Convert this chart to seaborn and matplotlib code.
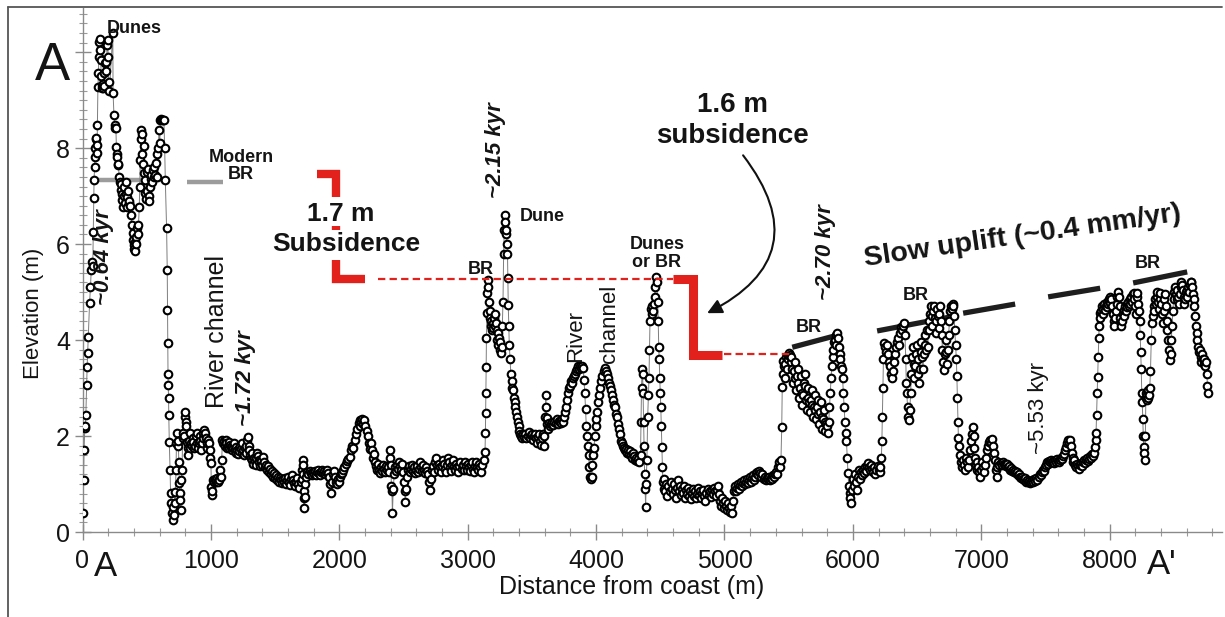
import matplotlib
matplotlib.use("Agg")
import matplotlib.pyplot as plt
import pandas as pd
import seaborn as sns
from matplotlib.ticker import MultipleLocator, FixedLocator
from matplotlib.lines import Line2D

# ---------------- profile data (distance from coast [m], elevation [m]) ----------------
coast_dunes = [(3,0.40),(8,1.08),(12,1.71),(18,2.17),(22,2.20),(26,2.44),(32,3.06),(36,3.44),(40,3.73),(45,4.07),
    (55,4.77),(62,5.10),(68,5.46),(74,5.63),(80,5.55),(84,6.25),(88,6.96),(90,7.33),(94,7.60),(98,7.81),(100,8.00),
    (103,8.20),(106,8.22),(110,8.07),(113,7.90),(116,8.48),(120,9.27),(124,9.56),(127,9.90),(130,10.22),(134,10.28),
    (138,10.05),(142,9.83),(146,9.50),(150,9.31),(153,9.25),(156,9.28),(159,9.33),(162,9.25),(165,9.30),(170,9.56),
    (175,9.77),(180,9.60),(186,9.80),(192,10.15),(196,10.25),(200,9.90),(204,9.37),(210,9.20),(236,10.40),(238,9.15),
    (245,8.69),(250,8.48),(255,8.41),(260,8.41),(264,8.02),(268,7.88),(272,7.81),(276,7.65),(280,7.67),(285,7.40),
    (290,7.30),(296,7.12),(300,7.25),(305,6.91),(310,7.05),(315,6.77),(320,7.00),(325,7.20),(330,6.85),(335,7.30),
    (340,7.05),(345,6.98),(350,6.77),(355,7.10),(360,6.85),(366,6.90),(372,6.80),(378,6.60),(384,6.40),(390,6.23),
    (395,6.08),(400,5.98),(404,5.90),(408,6.05),(412,5.85),(416,6.15),(420,6.00),(424,6.33),(430,6.20),(436,6.40),
    (442,6.77),(446,7.20),(450,7.75),(454,8.37),(458,8.20),(462,7.88),(466,8.30),(470,7.67),(476,8.05),(480,7.48),
    (486,7.33),(490,7.06),(496,6.93),(500,7.10),(505,7.50),(510,7.57),(515,7.00),(520,6.90),(525,7.20),(530,7.35),
    (536,7.45),(542,7.30),(548,7.55),(554,7.40),(560,7.60),(566,7.45),(572,7.70),(578,7.40),(584,7.88),(590,8.00),
    (596,8.37),(602,8.10),(606,8.58),(612,8.60),(618,8.58),(628,8.58),(634,8.58),(640,8.00),(645,7.33),(655,6.33),
    (660,5.46),(662,4.63),(664,3.94),(666,3.30),(668,3.06),(670,2.80),(672,2.44)]

river_channel_low = [(676,1.88),(682,1.29),(686,0.81),(690,0.60),(696,0.40),(702,0.25),(708,0.53),(712,0.35),
    (718,0.83),(722,0.60),(728,1.29),(732,1.85),(738,2.06),(742,1.80),(746,1.90),(750,1.45),(754,1.02),(758,0.81),
    (762,0.67),(766,0.45),(770,1.08),(775,1.30),(780,1.95),(786,2.06),(790,2.00),(796,2.40),(800,2.50),(804,2.30),
    (808,2.20),(812,1.87),(818,1.75),(822,1.60),(828,1.90),(834,1.75),(840,2.06),(846,1.85),(852,1.80),(858,1.95),
    (864,1.88),(870,1.75),(876,1.80),(882,2.00),(888,2.06),(894,1.85),(900,1.75),(906,1.85),(912,2.00),(918,1.90),
    (924,1.70),(930,1.85),(936,1.95),(942,2.06),(948,2.13),(954,2.06),(960,1.95),(966,1.75),(972,1.85),(978,1.92),
    (984,1.85),(990,1.70),(996,1.55)]

terrace_1000 = [(1000,1.44),(1004,0.94),(1008,0.78),(1012,0.85),(1018,1.08),(1024,1.05),(1030,1.10),(1036,1.05),
    (1042,1.08),(1048,1.12),(1054,1.05),(1060,1.10),(1066,1.08),(1072,1.29),(1078,1.15),(1084,1.50),(1090,1.92),
    (1096,1.85),(1102,1.90),(1108,1.80),(1114,1.92),(1120,1.85),(1126,1.75),(1132,1.80),(1138,1.88),(1144,1.75),
    (1150,1.82),(1156,1.78),(1162,1.70),(1168,1.80),(1174,1.75),(1180,1.85),(1186,1.72),(1192,1.65),(1198,1.78),
    (1204,1.70),(1210,1.62),(1216,1.75),(1222,1.68),(1228,1.80),(1234,1.72),(1240,1.65),(1246,1.85),(1252,1.70),
    (1258,1.60),(1264,1.75),(1270,1.65),(1276,1.80),(1282,1.92),(1288,1.98),(1294,1.80),(1300,1.70),(1306,1.60),
    (1312,1.55),(1318,1.65),(1324,1.50),(1330,1.42),(1336,1.55),(1342,1.48),(1348,1.40),(1354,1.55),(1360,1.65),
    (1366,1.58),(1372,1.50),(1378,1.45),(1384,1.38),(1390,1.48),(1396,1.40)]

plain_1400 = [(1402,1.56),(1410,1.45),(1418,1.35),(1426,1.40),(1434,1.30),(1442,1.38),(1450,1.25),(1458,1.32),
    (1466,1.20),(1474,1.28),(1482,1.15),(1490,1.22),(1498,1.12),(1506,1.18),(1514,1.08),(1522,1.15),(1530,1.05),
    (1538,1.12),(1546,1.08),(1554,1.02),(1562,1.10),(1570,1.05),(1578,1.12),(1586,1.00),(1594,1.08),(1602,1.15),
    (1610,1.05),(1618,0.98),(1626,1.10),(1634,1.18),(1642,1.08),(1650,1.02),(1658,0.95),(1666,1.05),(1674,1.12),
    (1682,1.00),(1690,0.92),(1698,1.05),(1706,1.10),(1712,1.30),(1716,1.50),(1718,1.40),(1720,1.20),(1722,0.85),
    (1724,0.70),(1726,0.50),(1730,0.72),(1736,1.00),(1744,1.15),(1752,1.25),(1760,1.20),(1768,1.28),(1776,1.22),
    (1784,1.18),(1792,1.25),(1800,1.20),(1808,1.28),(1816,1.18),(1824,1.25),(1832,1.30),(1840,1.22),(1848,1.18),
    (1856,1.25),(1864,1.30),(1872,1.22),(1880,1.28),(1888,1.20),(1896,1.25),(1904,1.30),(1912,1.22),(1920,1.15),
    (1928,1.00),(1934,0.81),(1940,1.05),(1948,1.20),(1956,1.28),(1964,1.15),(1972,1.05),(1980,1.00),(1988,1.10),
    (1996,1.05),(2004,1.15),(2012,1.20),(2020,1.22),(2030,1.30),(2040,1.35),(2050,1.42),(2060,1.48),(2070,1.52),
    (2080,1.56),(2090,1.70),(2100,1.80),(2110,1.75),(2120,1.92),(2130,2.05),(2140,2.15),(2150,2.27),(2158,2.20),
    (2165,2.33),(2172,2.30),(2180,2.36),(2188,2.25),(2196,2.33),(2204,2.20),(2212,2.10),(2220,2.00),(2228,1.85),
    (2236,1.72),(2244,1.85),(2252,1.70),(2260,1.55),(2268,1.62),(2276,1.45),(2284,1.38),(2292,1.30),(2300,1.42),
    (2308,1.30),(2316,1.22),(2324,1.35),(2332,1.28),(2340,1.40),(2348,1.32),(2356,1.25),(2364,1.38),(2372,1.30),
    (2380,1.35),(2388,1.25),(2394,1.55),(2398,1.70),(2402,1.40),(2406,0.95),(2410,0.85),(2414,0.39),(2420,0.90),
    (2428,1.20)]

plain_2430 = [(2436,1.35),(2444,1.28),(2452,1.40),(2460,1.32),(2468,1.45),(2476,1.38),(2484,1.30),(2492,1.42),
    (2500,1.25),(2506,1.05),(2510,0.85),(2514,0.63),(2518,0.90),(2524,1.15),(2532,1.30),(2540,1.38),(2548,1.25),
    (2556,1.32),(2564,1.40),(2572,1.28),(2580,1.35),(2588,1.22),(2596,1.30),(2604,1.38),(2612,1.25),(2620,1.32),
    (2628,1.45),(2636,1.35),(2644,1.28),(2652,1.40),(2660,1.30),(2668,1.22),(2676,1.35),(2684,1.28),(2692,1.20),
    (2700,1.05),(2706,0.87),(2712,1.10),(2720,1.30),(2728,1.38),(2736,1.25),(2744,1.45),(2752,1.55),(2760,1.40),
    (2768,1.30),(2776,1.42),(2784,1.35),(2792,1.25),(2800,1.38),(2808,1.50),(2816,1.42),(2824,1.32),(2832,1.25),
    (2840,1.40),(2848,1.55),(2856,1.45),(2864,1.35),(2872,1.28),(2880,1.40),(2888,1.50),(2896,1.38),(2904,1.30),
    (2912,1.42),(2920,1.35),(2928,1.25),(2936,1.38),(2944,1.45),(2952,1.32),(2960,1.40),(2968,1.30),(2976,1.45),
    (2984,1.38),(2992,1.30),(3000,1.42),(3008,1.35),(3016,1.28),(3024,1.40),(3032,1.45),(3040,1.32),(3048,1.25),
    (3056,1.38),(3064,1.45),(3072,1.35),(3080,1.30),(3088,1.42),(3096,1.35),(3104,1.25),(3110,1.40)]

br_dune_3150 = [(3130,1.50),(3135,1.67),(3138,2.06),(3140,2.48),(3142,2.90),(3144,3.44),(3146,4.04),(3150,4.56),
    (3154,4.98),(3158,5.25),(3162,5.10),(3166,4.80),(3170,4.60),(3175,4.45),(3180,4.30),(3185,4.40),(3190,4.20),
    (3195,4.35),(3200,4.25),(3205,4.45),(3210,4.30),(3215,4.55),(3220,4.35),(3225,4.20),(3230,4.00),(3235,4.15),
    (3240,3.90),(3245,4.05),(3250,3.80),(3255,3.95),(3260,3.73),(3265,3.85),(3270,4.30),(3275,4.80),(3280,5.80),
    (3285,6.30),(3290,6.60),(3294,6.45),(3298,6.20),(3302,6.30),(3306,6.00),(3310,5.80),(3313,5.30),(3316,4.73),
    (3320,4.30),(3324,3.90),(3330,3.60),(3336,3.30),(3342,3.15),(3348,3.00),(3354,2.95),(3360,2.80),(3366,2.70),
    (3372,2.60),(3378,2.50),(3384,2.40),(3390,2.30),(3396,2.20),(3402,2.10),(3410,2.05),(3418,2.00),(3426,1.95),
    (3434,2.05),(3442,1.98),(3450,2.05),(3458,1.95),(3466,2.00),(3474,2.08),(3482,1.95),(3490,2.02),(3498,2.05),
    (3506,1.92),(3514,2.00),(3522,2.05),(3530,1.95),(3538,1.85),(3546,1.98)]

river_channel_4000 = [(3554,2.05),(3562,1.90),(3570,1.82),(3578,1.95),(3586,2.05),(3592,1.80),(3598,2.00),
    (3604,2.40),(3608,2.85),(3612,2.60),(3616,2.38),(3620,2.25),(3628,2.15),(3636,2.28),(3644,2.20),(3652,2.25),
    (3660,2.30),(3668,2.22),(3676,2.30),(3684,2.28),(3692,2.35),(3700,2.25),(3708,2.32),(3716,2.30),(3724,2.28),
    (3732,2.35),(3740,2.30),(3748,2.40),(3756,2.50),(3764,2.60),(3772,2.75),(3780,2.90),(3788,3.00),(3796,3.05),
    (3804,3.15),(3812,3.10),(3820,3.20),(3828,3.25),(3836,3.30),(3844,3.35),(3852,3.40),(3860,3.45),(3868,3.40),
    (3876,3.45),(3884,3.42),(3892,3.45),(3900,3.42),(3906,3.17),(3912,2.90),(3918,2.56),(3924,2.20),(3930,2.00),
    (3936,1.80),(3942,1.60),(3948,1.35),(3954,1.15),(3960,1.10),(3966,1.15),(3972,1.40),(3978,1.60),(3984,1.75),
    (3990,2.00),(3996,2.20),(4002,2.35),(4010,2.50),(4018,2.70),(4026,2.85),(4034,3.00),(4042,3.15),(4050,3.25),
    (4058,3.35),(4066,3.42),(4074,3.35),(4082,3.30),(4090,3.20),(4098,3.10),(4106,3.05),(4114,2.95),(4122,2.85),
    (4130,2.75),(4138,2.65),(4146,2.60),(4154,2.45),(4162,2.40),(4170,2.25),(4178,2.15),(4186,2.05),(4194,1.90),
    (4202,1.85),(4210,1.80),(4218,1.75),(4226,1.70),(4234,1.72),(4242,1.65),(4250,1.70),(4258,1.62),(4266,1.68),
    (4274,1.60),(4282,1.55),(4290,1.65),(4298,1.58),(4306,1.50),(4314,1.55),(4322,1.48),(4330,1.52),(4338,1.45),
    (4346,1.60),(4350,2.30),(4354,3.00),(4358,3.40),(4362,3.30),(4366,2.90),(4370,2.30),(4374,1.80),(4378,1.20),
    (4382,0.90),(4386,0.52),(4390,1.00),(4396,1.50),(4402,2.40),(4408,2.85),(4412,3.20),(4416,3.80),(4420,4.40),
    (4426,4.65),(4432,4.55),(4438,4.70),(4444,4.60),(4450,4.75),(4456,4.90),(4462,5.10),(4468,5.31),(4474,5.20),
    (4480,4.80),(4484,4.40),(4488,3.85),(4492,3.60),(4496,3.20),(4500,2.90),(4504,2.60),(4508,2.20),(4512,1.77),
    (4516,1.35),(4520,1.04),(4526,0.90)]

low_plain_5000 = [(4532,1.10),(4540,0.85),(4548,1.00),(4556,0.75),(4564,0.95),(4572,0.85),(4580,1.05),(4588,0.90),
    (4596,0.80),(4604,1.00),(4612,0.88),(4620,0.70),(4628,0.92),(4636,1.08),(4644,0.85),(4652,0.95),(4660,0.78),
    (4668,0.90),(4676,0.82),(4684,0.95),(4692,0.70),(4700,0.88),(4708,0.80),(4716,0.92),(4724,0.75),(4732,0.85),
    (4740,0.68),(4748,0.82),(4756,0.90),(4764,0.75),(4772,0.85),(4780,0.70),(4788,0.80),(4796,0.92),(4804,0.78),
    (4812,0.85),(4820,0.70),(4828,0.82),(4836,0.88),(4844,0.75),(4852,0.65),(4860,0.82),(4868,0.90),(4876,0.78),
    (4884,0.85),(4892,0.72),(4900,0.88),(4908,0.80),(4916,0.92),(4924,0.85),(4932,0.75),(4940,0.88),(4948,0.95),
    (4956,0.80),(4964,0.65),(4972,0.55),(4980,0.70),(4988,0.60),(4996,0.50),(5004,0.65),(5012,0.55),(5020,0.45),
    (5028,0.60),(5036,0.50),(5044,0.42),(5052,0.55),(5060,0.40),(5066,0.65),(5072,0.85),(5080,0.95),(5088,0.85),
    (5096,0.92),(5104,1.00),(5112,0.90),(5120,0.98),(5128,1.05),(5136,0.95),(5144,1.02),(5152,1.08),(5160,1.00),
    (5168,1.05),(5176,1.10),(5184,1.02),(5192,1.08),(5200,1.15),(5208,1.05),(5216,1.12),(5224,1.18),(5232,1.08),
    (5240,1.15),(5248,1.22),(5256,1.25),(5264,1.18),(5272,1.28),(5280,1.23),(5288,1.15),(5296,1.20),(5304,1.10),
    (5312,1.15),(5320,1.08),(5328,1.12),(5336,1.10),(5344,1.15),(5352,1.08),(5360,1.12),(5368,1.10),(5376,1.18),
    (5384,1.15),(5392,1.20),(5400,1.25),(5408,1.20),(5416,1.35),(5424,1.45),(5430,1.35)]

br_ridge_5600 = [(5440,1.50),(5446,2.19),(5450,3.02),(5454,3.30),(5458,3.56),(5462,3.45),(5468,3.20),(5474,3.50),
    (5480,3.65),(5486,3.40),(5492,3.60),(5498,3.69),(5504,3.72),(5510,3.69),(5516,3.55),(5522,3.65),(5528,3.40),
    (5534,3.10),(5540,3.35),(5546,3.55),(5552,3.20),(5558,2.95),(5564,3.25),(5570,3.40),(5576,3.10),(5582,2.80),
    (5588,3.00),(5594,3.25),(5600,2.90),(5606,2.65),(5612,2.85),(5618,3.10),(5624,3.30),(5630,3.05),(5636,2.75),
    (5642,2.55),(5648,2.80),(5654,3.00),(5660,2.70),(5666,2.50),(5672,2.75),(5678,2.95),(5684,2.65),(5690,2.40),
    (5696,2.60),(5702,2.85),(5708,2.55),(5714,2.35),(5720,2.60),(5726,2.75),(5732,2.45),(5738,2.25),(5744,2.50),
    (5750,2.70),(5756,2.40),(5762,2.15),(5768,2.35),(5774,2.55),(5780,2.30),(5786,2.10),(5792,2.25),(5800,2.20),
    (5806,2.06),(5812,2.30),(5818,2.60),(5824,2.90),(5830,3.20),(5836,3.45),(5842,3.65),(5848,3.80),(5854,3.95),
    (5860,4.00),(5866,3.90),(5872,4.10),(5878,4.15),(5884,4.05),(5890,3.85),(5896,3.70),(5902,3.60),(5908,3.45),
    (5914,3.40),(5920,3.20),(5926,2.90),(5932,2.60),(5938,2.30),(5944,2.06),(5950,1.90),(5956,1.55),(5962,1.23),
    (5968,0.95),(5974,0.81),(5980,0.71),(5986,0.60)]

swale_6100 = [(5992,0.88),(6000,1.10),(6008,0.95),(6016,1.20),(6024,1.05),(6032,0.88),(6040,1.15),(6048,1.30),
    (6056,1.10),(6064,1.25),(6072,1.18),(6080,1.30),(6088,1.22),(6096,1.35),(6104,1.28),(6112,1.38),(6120,1.44),
    (6128,1.35),(6136,1.30),(6144,1.40),(6152,1.32),(6160,1.25),(6168,1.35),(6176,1.20),(6184,1.30),(6192,1.38),
    (6200,1.30),(6208,1.25),(6214,1.35)]

br_ridge_6500 = [(6222,1.55),(6226,1.90),(6230,2.40),(6234,3.00),(6238,3.60),(6242,3.94),(6250,3.85),(6258,3.75),
    (6266,3.90),(6274,3.70),(6282,3.55),(6290,3.45),(6298,3.30),(6306,3.20),(6314,3.35),(6322,3.55),(6330,3.70),
    (6338,3.85),(6346,3.95),(6354,4.05),(6362,3.90),(6370,4.15),(6378,4.27),(6386,4.20),(6394,4.30),(6400,4.35),
    (6406,4.10),(6412,3.60),(6416,3.10),(6420,2.90),(6426,2.60),(6432,2.40),(6438,2.33),(6444,2.55),(6450,2.90),
    (6456,3.30),(6462,3.65),(6468,3.85),(6474,3.50),(6480,3.20),(6486,3.45),(6492,3.70),(6498,3.90),(6504,3.60),
    (6510,3.30),(6516,3.10),(6522,3.40),(6528,3.75),(6534,3.95),(6540,3.65),(6546,3.40),(6552,3.70),(6558,3.90),
    (6564,4.10),(6570,3.80),(6576,4.20),(6582,3.85),(6590,4.20),(6596,4.40),(6602,4.55),(6608,4.70),(6614,4.50),
    (6620,4.30),(6626,4.60),(6632,4.72),(6638,4.45),(6644,4.15),(6650,4.40),(6656,4.65),(6662,4.50),(6668,4.25),
    (6674,4.55),(6680,4.70),(6686,4.40),(6692,4.10),(6698,3.80),(6704,3.55),(6710,3.38),(6716,3.70),(6722,4.00),
    (6728,3.75),(6734,3.50),(6740,3.80),(6746,4.10),(6752,4.40),(6758,4.60),(6764,4.72),(6770,4.65),(6776,4.75),
    (6782,4.70),(6788,4.50),(6794,4.20),(6800,3.90),(6806,3.60),(6810,3.25),(6814,2.80),(6818,2.30),(6822,1.95)]

lowland_7300 = [(6828,1.80),(6836,1.60),(6844,1.45),(6852,1.35),(6860,1.50),(6868,1.40),(6876,1.30),(6884,1.55),
    (6892,1.45),(6900,1.35),(6908,1.50),(6916,1.70),(6922,1.90),(6928,2.05),(6934,2.19),(6940,2.00),(6946,1.75),
    (6952,1.55),(6958,1.40),(6964,1.30),(6970,1.45),(6976,1.35),(6982,1.25),(6988,1.15),(6996,1.30),(7004,1.45),
    (7012,1.35),(7020,1.25),(7028,1.40),(7036,1.55),(7044,1.70),(7052,1.80),(7060,1.88),(7068,1.92),(7076,1.85),
    (7084,1.94),(7092,1.80),(7100,1.65),(7108,1.50),(7114,1.30),(7120,1.15),(7126,1.35),(7134,1.45),(7142,1.40),
    (7150,1.44),(7158,1.40),(7166,1.45),(7174,1.42),(7182,1.40),(7190,1.38),(7198,1.42),(7206,1.35),(7214,1.38),
    (7222,1.30),(7230,1.33),(7238,1.28),(7246,1.30),(7254,1.25),(7262,1.28),(7270,1.22),(7278,1.25),(7286,1.18),
    (7294,1.20),(7302,1.15),(7310,1.12),(7318,1.15),(7326,1.10),(7334,1.08),(7342,1.12),(7350,1.05),(7358,1.08),
    (7366,1.04),(7374,1.06),(7382,1.02),(7390,1.05),(7398,1.08),(7406,1.04),(7414,1.10),(7422,1.06),(7430,1.12),
    (7438,1.08),(7446,1.15),(7454,1.20),(7462,1.18),(7470,1.25),(7478,1.30),(7486,1.28),(7494,1.35),(7502,1.40),
    (7510,1.45),(7518,1.42),(7526,1.48),(7534,1.45),(7542,1.50),(7550,1.46),(7558,1.48),(7566,1.44),(7574,1.50),
    (7582,1.46),(7590,1.52),(7598,1.48),(7606,1.45),(7614,1.50),(7622,1.55),(7630,1.52),(7638,1.58),(7646,1.62),
    (7654,1.70),(7662,1.78),(7670,1.85),(7678,1.92),(7686,1.85),(7694,1.92),(7700,1.80),(7706,1.65),(7712,1.55),
    (7718,1.45),(7724,1.50),(7730,1.40),(7738,1.35),(7746,1.42),(7754,1.38),(7762,1.32),(7770,1.40),(7778,1.44),
    (7786,1.38),(7794,1.45),(7802,1.50),(7810,1.44),(7818,1.50),(7826,1.55),(7834,1.48),(7842,1.52),(7850,1.58),
    (7858,1.55),(7866,1.62),(7872,1.58)]

br_ridge_8300 = [(7880,1.65),(7886,1.77),(7890,1.92),(7894,2.06),(7898,2.44),(7902,2.90),(7906,3.23),(7910,3.65),
    (7914,4.04),(7918,4.30),(7922,4.56),(7928,4.45),(7934,4.60),(7940,4.70),(7946,4.55),(7952,4.65),(7958,4.75),
    (7964,4.62),(7970,4.70),(7976,4.80),(7982,4.68),(7988,4.75),(7994,4.85),(8000,4.90),(8006,4.78),(8012,4.85),
    (8018,4.70),(8024,4.55),(8030,4.40),(8036,4.30),(8042,4.45),(8048,4.60),(8054,4.75),(8060,4.90),(8066,5.00),
    (8072,4.90),(8078,4.70),(8084,4.45),(8090,4.30),(8096,4.40),(8102,4.55),(8108,4.50),(8114,4.62),(8120,4.70),
    (8126,4.60),(8132,4.75),(8138,4.68),(8144,4.80),(8150,4.70),(8156,4.85),(8162,4.75),(8168,4.90),(8174,4.80),
    (8180,4.95),(8186,4.98),(8192,4.85),(8198,4.70),(8204,4.55),(8210,4.90),(8216,4.98),(8222,4.75),(8228,4.60),
    (8234,4.40),(8238,4.10),(8242,3.75),(8246,3.40),(8250,2.90),(8254,2.70),(8258,2.35),(8262,2.00),(8266,1.77),
    (8270,1.65),(8274,1.50),(8278,2.00),(8282,2.80),(8286,2.90),(8290,2.75),(8294,2.85),(8298,2.80),(8302,2.95),
    (8306,2.85),(8312,3.00),(8318,3.35),(8324,4.00),(8330,4.35),(8336,4.50),(8342,4.70),(8348,4.60),(8354,4.85),
    (8360,4.75),(8366,4.90),(8372,5.00),(8378,4.80),(8384,4.65),(8390,4.85),(8396,4.98),(8402,4.75),(8408,4.55),
    (8414,4.35),(8420,4.60),(8426,4.85),(8432,4.95),(8438,4.70),(8444,4.40),(8450,4.20),(8456,4.00),(8462,3.80),
    (8468,3.58),(8474,3.70),(8480,4.00),(8486,4.30),(8492,4.60),(8498,4.85),(8504,5.00),(8510,5.10),(8516,4.95),
    (8522,4.85),(8528,5.05),(8534,4.90),(8540,4.75),(8546,4.95),(8552,5.10),(8558,5.20),(8564,5.15),(8570,5.05),
    (8576,4.90),(8582,4.75),(8588,4.85),(8594,5.00),(8600,4.90),(8606,5.05),(8612,5.10),(8618,5.00),(8624,5.15),
    (8630,5.20),(8636,5.22),(8642,5.10),(8648,4.95),(8654,4.85),(8660,4.70),(8666,4.50),(8672,4.30),(8678,4.15),
    (8684,4.00),(8690,3.85),(8696,3.75),(8702,3.80),(8708,3.65),(8714,3.55),(8720,3.70),(8726,3.60),(8732,3.50),
    (8738,3.60),(8744,3.45),(8750,3.55),(8756,3.30),(8762,3.05),(8766,2.90)]

segments = [coast_dunes, river_channel_low, terrace_1000, plain_1400, plain_2430, br_dune_3150,
            river_channel_4000, low_plain_5000, br_ridge_5600, swale_6100, br_ridge_6500,
            lowland_7300, br_ridge_8300]

# interpretive lines (distance, elevation)
modern_br_lines = [((58, 643), (7.33, 7.33)), ((814, 1095), (7.30, 7.30))]
br_trend_lines = [((5528, 5878), (3.85, 4.10)), ((6189, 6796), (4.19, 4.50)), ((6859, 7264), (4.56, 4.75)),
                  ((7521, 7926), (4.90, 5.08)), ((8183, 8604), (5.19, 5.42))]
x_major = [0, 1000, 2000, 3000, 4000, 5000, 6000, 7000, 8000]
y_major = [0, 2, 4, 6, 8, 10]
y_labels = ["0", "2", "4", "6", "8", ""]

rows = [p for seg in segments for p in seg]
df = pd.DataFrame(rows, columns=["dist", "elev"])

# ---------------- figure ----------------
sns.set_style("ticks")
plt.rcParams["font.family"] = ["Liberation Sans", "DejaVu Sans"]

W, H = 1225, 617
fig = plt.figure(figsize=(W / 100, H / 100), dpi=100)
ax = fig.add_axes([82.5 / W, (H - 532) / H, (1222 - 82.5) / W, (532 - 8) / H])

# interpretive background lines
for xs, ys in modern_br_lines:
    ax.plot(xs, ys, color="#9c9c9c", lw=3.2, solid_capstyle="butt", zorder=1)
for xs, ys in br_trend_lines:
    ax.plot(xs, ys, color="#1e1e1e", lw=3.8, solid_capstyle="butt", zorder=1)

sns.lineplot(data=df, x="dist", y="elev", sort=False, estimator=None, color="#7d7d7d",
             lw=0.7, ax=ax, zorder=2)
sns.scatterplot(data=df, x="dist", y="elev", marker="o", s=30, color="white",
                edgecolor="black", linewidth=1.5, ax=ax, zorder=3)

red = "#e3211c"
# 1.7 m bracket
ax.plot([1826, 1975, 1975], [7.47, 7.47, 6.98], color=red, lw=6, solid_joinstyle="miter",
        solid_capstyle="butt", zorder=5)
ax.plot([1975, 1975], [6.38, 6.29], color=red, lw=6, solid_capstyle="butt", zorder=5)
ax.plot([1975, 1975, 2200], [5.67, 5.27, 5.27], color=red, lw=6, solid_joinstyle="miter",
        solid_capstyle="butt", zorder=5)
ax.plot([2300, 4600], [5.27, 5.27], color=red, lw=1.6, ls=(0, (3.3, 1.9)), zorder=5)
# 1.6 m bracket
ax.plot([4600, 4755, 4755, 4981], [5.27, 5.27, 3.69, 3.69], color=red, lw=6.5,
        solid_joinstyle="miter", solid_capstyle="butt", zorder=5)
ax.plot([4995, 5500], [3.70, 3.70], color=red, lw=1.6, ls=(0, (3.3, 1.9)), zorder=5)

# curved arrow
ax.annotate("", xy=(4865, 4.56), xytext=(5145, 7.85),
            arrowprops=dict(arrowstyle="-|>", color="#111111", lw=1.5, mutation_scale=22,
                            connectionstyle="arc3,rad=-0.6", shrinkA=0, shrinkB=0), zorder=6)

# axes styling
ax.set_xlim(0, 8875)
ax.set_ylim(0, 10.92)
ax.xaxis.set_major_locator(FixedLocator(x_major))
ax.xaxis.set_minor_locator(MultipleLocator(200))
ax.yaxis.set_major_locator(FixedLocator(y_major))
ax.set_yticklabels(y_labels)
ax.yaxis.set_minor_locator(MultipleLocator(0.2))
ax.set_xlabel("")
ax.set_ylabel("")
for s in ["top", "right"]:
    ax.spines[s].set_visible(False)
for s in ["left", "bottom"]:
    ax.spines[s].set_color("#8a8a8a")
    ax.spines[s].set_linewidth(1.0)
ax.tick_params(which="major", direction="inout", length=11, width=1.0, color="#8a8a8a",
               labelsize=18, labelcolor="#141414")
ax.tick_params(axis="y", which="major", pad=3.5)
ax.tick_params(axis="x", which="major", pad=6.5)
ax.tick_params(which="minor", direction="inout", length=6, width=0.8, color="#9a9a9a")

# annotations
tk = dict(color="#141414")
ax.text(400, 10.5, "Dunes", fontsize=13, fontweight="bold", ha="center", va="center", **tk)
ax.text(1234, 7.62, "Modern\nBR", fontsize=13, fontweight="bold", ha="center", va="center",
        linespacing=1.0, **tk)
ax.text(167, 5.73, "~0.64 kyr", fontsize=16, fontweight="bold", style="italic", rotation=90,
        ha="center", va="center", **tk)
ax.text(1048, 4.17, "River channel", fontsize=18, rotation=90, ha="center", va="center", **tk)
ax.text(1266, 3.21, "~1.72 kyr", fontsize=16, fontweight="bold", style="italic", rotation=90,
        ha="center", va="center", **tk)
ax.text(2014, 6.63, "1.7 m", fontsize=19, fontweight="bold", ha="center", va="center", **tk)
ax.text(2057, 6.0, "Subsidence", fontsize=19, fontweight="bold", ha="center", va="center", **tk)
ax.text(3213, 7.96, "~2.15 kyr", fontsize=16, fontweight="bold", style="italic", rotation=90,
        ha="center", va="center", **tk)
ax.text(3408, 6.58, "Dune", fontsize=13, fontweight="bold", ha="left", va="center", **tk)
ax.text(3105, 5.46, "BR", fontsize=13, fontweight="bold", ha="center", va="center", **tk)
ax.text(3844, 4.08, "River", fontsize=16, rotation=90, ha="center", va="center", **tk)
ax.text(4101, 4.33, "channel", fontsize=16, rotation=90, ha="center", va="center", **tk)
ax.text(4474, 5.81, "Dunes\nor BR", fontsize=13, fontweight="bold", ha="center", va="center",
        linespacing=1.05, **tk)
ax.text(5061, 8.9, "1.6 m", fontsize=20, fontweight="bold", ha="center", va="center", **tk)
ax.text(5061, 8.25, "subsidence", fontsize=20, fontweight="bold", ha="center", va="center", **tk)
ax.text(5784, 5.83, "~2.70 kyr", fontsize=16, fontweight="bold", style="italic", rotation=90,
        ha="center", va="center", **tk)
ax.text(5659, 4.27, "BR", fontsize=13, fontweight="bold", ha="center", va="center", **tk)
ax.text(7318, 6.17, "Slow uplift (~0.4 mm/yr)", fontsize=20.5, fontweight="bold", rotation=8.2,
        rotation_mode="anchor", ha="center", va="center", **tk)
ax.text(6493, 4.92, "BR", fontsize=13, fontweight="bold", ha="center", va="center", **tk)
ax.text(7443, 2.58, "~5.53 kyr", fontsize=16, rotation=90, ha="center", va="center", **tk)
ax.text(8300, 5.6, "BR", fontsize=13, fontweight="bold", ha="center", va="center", **tk)

# figure-level labels
fig.text(632 / W, 1 - 587 / H, "Distance from coast (m)", fontsize=18, ha="center", va="center",
         color="#141414")
fig.text(34 / W, 1 - 313 / H, "Elevation (m)", fontsize=16, rotation=90, ha="center", va="center",
         color="#141414")
fig.text(52 / W, 1 - 66 / H, "A", fontsize=38, ha="center", va="center", color="#141414")
fig.text(105.5 / W, 1 - 566 / H, "A", fontsize=25, ha="center", va="center", color="#141414")
fig.text(1162 / W, 1 - 564 / H, "A'", fontsize=25, ha="center", va="center", color="#141414")

# outer frame
fig.add_artist(Line2D([8 / W, 1222 / W], [1 - 7 / H, 1 - 7 / H], color="#555555", lw=1.3,
                      transform=fig.transFigure))
fig.add_artist(Line2D([8 / W, 8 / W], [1 - 7 / H, 0], color="#555555", lw=1.3,
                      transform=fig.transFigure))

fig.savefig("out.png", dpi=100)
